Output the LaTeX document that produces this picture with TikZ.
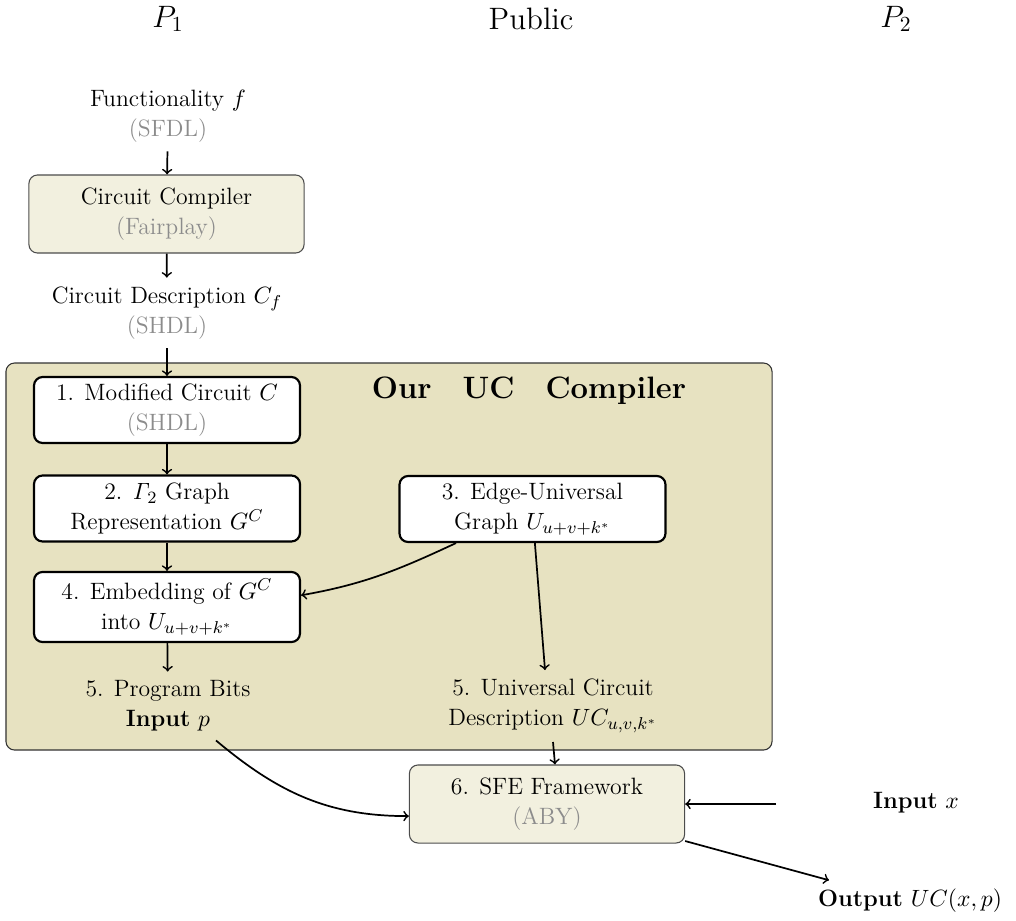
\documentclass[tikz,border=0pt]{standalone}
\usetikzlibrary{calc}
\definecolor{ucfill}{RGB}{231,226,193}
\definecolor{toolfill}{RGB}{242,240,223}
\definecolor{notegray}{RGB}{140,140,140}
\tikzset{
  stepbox/.style={draw, line width=1pt, rounded corners=4pt, fill=white, align=center,
    minimum width=123.7pt, minimum height=30.7pt, inner sep=2pt},
  toolbox/.style={draw=black!70, line width=0.5pt, rounded corners=4pt, fill=toolfill,
    align=center, minimum width=128pt, minimum height=36.3pt, inner sep=2pt},
  ucframe/.style={draw=black!80, line width=0.5pt, rounded corners=4pt, fill=ucfill,
    minimum width=356.3pt, minimum height=180pt},
  plaintext/.style={align=center, inner sep=4pt},
  party/.style={font=\fontsize{14.4}{18}\selectfont},
  flow/.style={->, thick}
}
\newcommand{\toolname}[1]{\textcolor{notegray}{(#1)}}
\begin{document}
\fontsize{11}{14}\selectfont
\begin{tikzpicture}[x=0.4651pt, y=0.4651pt]
\useasboundingbox (0,0) rectangle (1016,-920);
% parties
\node[party] (p1) at (168,-19) {$P_1$};
\node[party] (pub) at (531,-19) {Public};
\node[party] (p2) at (896,-19) {$P_2$};
% before the UC compiler
\node[plaintext] (func) at (168,-116) {Functionality $f$\\ \toolname{SFDL}};
\node[toolbox] (comp) at (166.5,-214) {Circuit Compiler\\ \toolname{Fairplay}};
\node[plaintext] (cdesc) at (167,-313) {Circuit Description $C_f$\\ \toolname{SHDL}};
% our UC compiler
\node[ucframe] (uc) at (389,-556.5) {};
\node[font=\fontsize{14.4}{18}\selectfont\bfseries] (title) at (529,-391) {Our\quad UC\quad Compiler};
\node[stepbox] (m1) at (167,-410) {1. Modified Circuit $C$\\ \toolname{SHDL}};
\node[stepbox] (m2) at (167,-508.5) {2. $\mathit{\Gamma}_2$ Graph\\ Representation $G^C$};
\node[stepbox] (eu) at (532.5,-509) {3. Edge-Universal\\ Graph $U_{u+v+k^*}$};
\node[stepbox, minimum height=32.6pt] (m4) at (167,-607) {4. Embedding of $G^C$\\ into $U_{u+v+k^*}$};
\node[plaintext] (pbits) at (168,-706) {5. Program Bits\\ \textbf{Input} $p$};
\node[plaintext] (udesc) at (553,-706) {5. Universal Circuit\\ Description $UC_{u,v,k^*}$};
% SFE
\node[toolbox] (sfe) at (547,-804) {6. SFE Framework\\ \toolname{ABY}};
\node[plaintext] (inx) at (916,-803) {\textbf{Input} $x$};
\coordinate (xin) at (776,-804);
\node[plaintext] (out) at (910,-901) {\textbf{Output} $UC(x,p)$};
% connectors
\draw[flow] (func) -- (comp);
\draw[flow] (comp) -- (cdesc);
\draw[flow] (cdesc) -- (m1);
\draw[flow] (m1) -- (m2);
\draw[flow] (m2) -- (m4);
\draw[flow] (m4) -- (pbits);
\draw[flow] (eu.204) to[out=205, in=10] (m4.5);
\draw[flow] (eu.-86) -- ($(udesc.north)+(-8,0)$);
\draw[flow] (udesc.south) -- ($(sfe.north)+(8,0)$);
\draw[flow] ($(pbits.south)+(48,0)$) to[out=-40, in=180] (sfe.185);
\draw[flow] (xin) -- (sfe.east);
\draw[flow] (sfe.-15) -- ($(out.north west)+(20,0)$);
\end{tikzpicture}
\end{document}
